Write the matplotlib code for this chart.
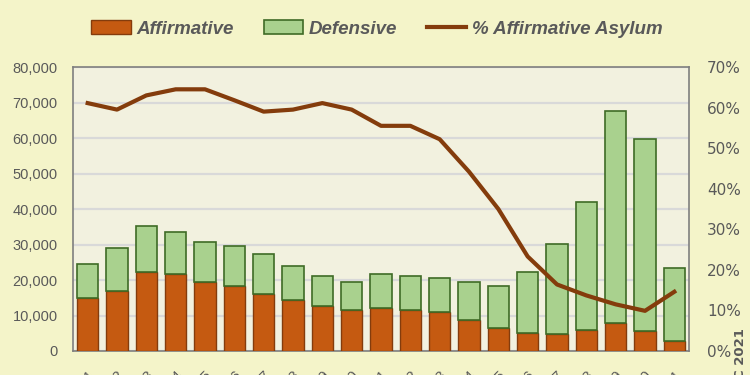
import numpy as np
import matplotlib.pyplot as plt
from matplotlib.ticker import FuncFormatter, MultipleLocator

years = [str(y) for y in range(2001, 2022)]
affirmative = [14850, 17010, 22180, 21620, 19360, 18230, 15980, 14290, 12590, 11470, 12030,
               11470, 10900, 8650, 6480, 5170, 4700, 5830, 7990, 5730, 2910]
total = [24530, 28950, 35240, 33550, 30640, 29600, 27350, 23970, 21150, 19450, 21710,
         21150, 20580, 19450, 18330, 22270, 30170, 42010, 67480, 59680, 23310]
defensive = [t - a for t, a in zip(total, affirmative)]
pct_affirmative = [61.1, 59.5, 63.0, 64.5, 64.5, 61.8, 59.0, 59.5, 61.1, 59.5, 55.5,
                   55.5, 52.2, 44.2, 35.0, 23.3, 16.4, 13.7, 11.5, 9.9, 14.6]

plt.rcParams['font.family'] = ['Liberation Sans', 'DejaVu Sans']
grey = '#595959'

fig = plt.figure(figsize=(7.5, 3.75), dpi=100, facecolor='#F4F4C9')
ax = fig.add_axes([73/750, 1-351/375, 616/750, 284/375])
ax.set_facecolor('#F2F1DF')

x = np.arange(len(years))
w = 0.72
ax.bar(x, affirmative, w, color='#C55A11', edgecolor='#843C0C', linewidth=1.0,
       label='Affirmative', zorder=3)
ax.bar(x, defensive, w, bottom=affirmative, color='#A9D18E', edgecolor='#3F6B26',
       linewidth=1.2, label='Defensive', zorder=3)

ax.set_xlim(-0.5, len(years) - 0.5)
ax.set_ylim(0, 80000)
ax.yaxis.set_major_locator(MultipleLocator(10000))
ax.yaxis.set_major_formatter(FuncFormatter(lambda v, p: f'{int(v):,}'))
ax.grid(axis='y', color='#D9D9D9', linewidth=1.6, zorder=0)
ax.set_xticks(x)
ax.set_xticklabels(years, rotation=45, ha='right', rotation_mode='anchor')
ax.tick_params(axis='both', colors=grey, labelsize=10.5, length=0)
ax.tick_params(axis='y', pad=11)
ax.tick_params(axis='x', pad=12)
for s in ax.spines.values():
    s.set_color('#7F7F7F')
    s.set_linewidth(1.2)

ax2 = ax.twinx()
ax2.plot(x, pct_affirmative, color='#843C0C', linewidth=3,
         label='% Affirmative Asylum', zorder=4)
ax2.set_ylim(0, 70)
ax2.yaxis.set_major_locator(MultipleLocator(10))
ax2.yaxis.set_major_formatter(FuncFormatter(lambda v, p: f'{int(v)}%'))
ax2.tick_params(axis='y', colors=grey, labelsize=11, length=0, pad=13)
for lbl in ax2.get_yticklabels():
    lbl.set_fontfamily('DejaVu Sans')
for s in ax2.spines.values():
    s.set_visible(False)

h1, l1 = ax.get_legend_handles_labels()
h2, l2 = ax2.get_legend_handles_labels()
fig.legend(h1 + h2, l1 + l2, loc='center', bbox_to_anchor=(377/750, 1 - 29/375), ncol=3,
           frameon=False, prop={'style': 'italic', 'weight': 'bold', 'size': 13.5},
           labelcolor=grey, handlelength=2.1, handleheight=0.7, handletextpad=0.3,
           columnspacing=1.6)

fig.text(740/750, 1 - 328/375, '\u00a9TRAC 2021', rotation=90, ha='center', va='top',
         color=grey, fontsize=9.5, fontweight='bold', family='DejaVu Sans')

fig.savefig('out.png', dpi=100, facecolor=fig.get_facecolor())
